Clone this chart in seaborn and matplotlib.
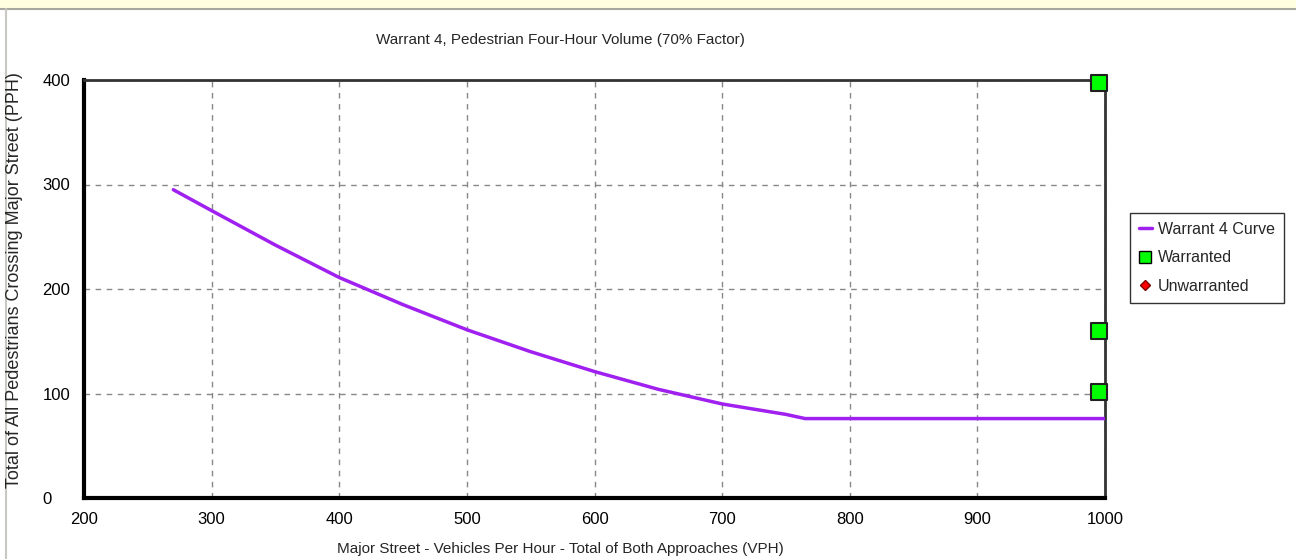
import pandas as pd
import matplotlib.pyplot as plt
import seaborn as sns
from matplotlib.lines import Line2D
from matplotlib.patches import Rectangle

# Warrant 4 curve (70% factor)
curve_vph = [270, 300, 350, 400, 450, 500, 550, 600, 650, 700, 750, 765, 1000]
curve_pph = [295, 275, 242, 211, 185, 161, 140, 121, 104, 90, 80, 76, 76]

# Warranted hours
warr_vph = [995, 995, 995]
warr_pph = [397, 160, 101]

x_ticks = [200, 300, 400, 500, 600, 700, 800, 900, 1000]
y_ticks = [0, 100, 200, 300, 400]

sns.set_style("white")
plt.rcParams['font.family'] = ['Liberation Sans Narrow', 'Liberation Sans', 'DejaVu Sans']

fig = plt.figure(figsize=(12.96, 5.59), dpi=100)
fig.patch.set_facecolor("white")

# top yellow strip and window border
fig.patches.append(Rectangle((0, 1 - 8 / 559), 1, 8 / 559, transform=fig.transFigure,
                             facecolor="#FFFFE0", edgecolor="none", zorder=0))
fig.add_artist(Line2D([0, 1], [1 - 9 / 559, 1 - 9 / 559], transform=fig.transFigure,
                      color="#a8a8a0", lw=1.5))
fig.add_artist(Line2D([6 / 1296, 6 / 1296], [0, 1 - 9 / 559], transform=fig.transFigure,
                      color="#c8c8c0", lw=1.5))

ax = fig.add_axes([84 / 1296, 1 - 498 / 559, (1105 - 84) / 1296, (498 - 80) / 559])

df = pd.DataFrame({"vph": curve_vph, "pph": curve_pph})
sns.lineplot(data=df, x="vph", y="pph", ax=ax, color="#a020f0", lw=2.5, zorder=3)
sns.scatterplot(x=warr_vph, y=warr_pph, ax=ax, marker="s", s=130, color="#00ff00",
                edgecolor="#202020", linewidth=1.5, zorder=5, clip_on=False)

ax.set_xlim(200, 1000)
ax.set_ylim(0, 400)
ax.set_xticks(x_ticks)
ax.set_yticks(y_ticks)
ax.grid(True, color="#888888", linestyle=(0, (4, 4)), lw=1)
ax.tick_params(axis="both", direction="out", length=4, width=1.2, labelsize=12, colors="black")
ax.tick_params(axis="x", pad=6)
ax.tick_params(axis="y", pad=26)
for lbl in ax.get_yticklabels():
    lbl.set_horizontalalignment("left")
ax.set_xlabel("")
ax.set_ylabel("")
for side in ["left", "bottom"]:
    ax.spines[side].set_linewidth(3)
    ax.spines[side].set_color("black")
for side in ["top", "right"]:
    ax.spines[side].set_linewidth(2)
    ax.spines[side].set_color("#333333")

fig.text(560 / 1296, 1 - 40 / 559, "Warrant 4, Pedestrian Four-Hour Volume (70% Factor)",
         ha="center", va="center", fontsize=11)
fig.text(560 / 1296, 1 - 549 / 559, "Major Street - Vehicles Per Hour - Total of Both Approaches (VPH)",
         ha="center", va="center", fontsize=11)
fig.text(15 / 1296, 1 - 280 / 559, "Total of All Pedestrians Crossing Major Street (PPH)",
         ha="center", va="center", rotation=90, fontsize=13)

handles = [
    Line2D([], [], color="#a020f0", lw=2.5, label="Warrant 4 Curve"),
    Line2D([], [], marker="s", ls="", markersize=9, markerfacecolor="#00ff00",
           markeredgecolor="black", label="Warranted"),
    Line2D([], [], marker="D", ls="", markersize=5, markerfacecolor="#ff0000",
           markeredgecolor="#800000", label="Unwarranted"),
]
leg = fig.legend(handles=handles, loc="upper left", bbox_to_anchor=(1130 / 1296, 1 - 213 / 559),
                 borderaxespad=0, frameon=True, fancybox=False, fontsize=11.5, handlelength=0.8,
                 handletextpad=0.4, borderpad=0.55, labelspacing=0.85)
leg.get_frame().set_edgecolor("black")
leg.get_frame().set_linewidth(1)

fig.savefig("out.png", dpi=100)
